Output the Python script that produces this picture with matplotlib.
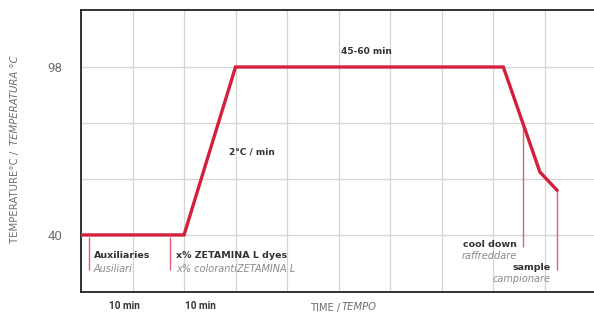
import matplotlib.pyplot as plt
from matplotlib.transforms import blended_transform_factory

plt.rcParams['font.family'] = ['DejaVu Sans']

# profile (time in minutes, temperature in °C)
time = [0, 20, 30, 82, 89.1, 92.4]
temp = [40, 40, 98, 98, 61.75, 55.5]

y_grid = [40, 59.33, 78.67, 98]
y_labels = ['40', '', '', '98']
x_grid = [10, 20, 30, 40, 50, 60, 70, 80, 90]

# step markers: x, top temp, bottom temp
marker_x = [1.55, 17.3, 85.8, 92.4]
marker_top = [39.2, 39.2, 78.6, 55.5]
marker_bottom = [27.9, 27.9, 35.9, 27.9]

# segment duration labels under the axis
dur_x = [8.5, 23.1]
dur_labels = ['10 min', '10 min']

red = '#d41f3d'
pink = '#e4607a'
dark = '#333333'
grey = '#8a8a8a'
axis_grey = '#6e6e6e'

fig = plt.figure(figsize=(5.94, 3.12), dpi=100)
ax = fig.add_axes([0.1364, 0.0641, 0.867, 0.904])

ax.plot(time, temp, color=red, lw=2.4, solid_joinstyle='miter', zorder=3)
ax.vlines(marker_x, marker_bottom, marker_top, color=pink, lw=1.0, zorder=2)

ax.set_xlim(0, 100)
ax.set_ylim(20.3, 117.7)
ax.set_xticks(x_grid)
ax.set_xticklabels([])
ax.set_yticks(y_grid)
ax.set_yticklabels(y_labels, color=axis_grey, fontsize=9.5, family='Roboto')
ax.tick_params(length=0, pad=13.5)
ax.grid(True, color='#d4d4d4', lw=0.9)
ax.set_axisbelow(True)
for s in ['left', 'bottom', 'top']:
    ax.spines[s].set_linewidth(1.3)
    ax.spines[s].set_color('#222222')
ax.spines['right'].set_visible(False)

# annotations
bfs = 6.8
ifs = 7.0
ax.text(2.5, 32.8, 'Auxiliaries', fontsize=bfs, weight='bold', color=dark, va='center')
ax.text(2.5, 28.4, 'Ausiliari', fontsize=ifs, style='italic', color=grey, va='center')
ax.text(18.5, 32.8, 'x% ZETAMINA L dyes', fontsize=bfs, weight='bold', color=dark, va='center')
ax.text(18.5, 28.4, 'x% colorantiZETAMINA L', fontsize=ifs, style='italic', color=grey, va='center')
ax.text(84.6, 36.7, 'cool down', fontsize=bfs, weight='bold', color=dark, va='center', ha='right')
ax.text(84.6, 32.9, 'raffreddare', fontsize=ifs, style='italic', color=grey, va='center', ha='right')
ax.text(91.2, 28.7, 'sample', fontsize=bfs, weight='bold', color=dark, va='center', ha='right')
ax.text(91.2, 24.9, 'campionare', fontsize=ifs, style='italic', color=grey, va='center', ha='right')
ax.text(50.4, 103.3, '45-60 min', fontsize=6.5, weight='bold', color=dark, va='center')
ax.text(28.7, 68.5, '2°C / min', fontsize=6.5, weight='bold', color=dark, va='center')

tr = blended_transform_factory(ax.transData, fig.transFigure)
for x, lab in zip(dur_x, dur_labels):
    ax.text(x, 0.02, lab, fontsize=7.2, weight='bold', color=dark, family='Roboto',
            ha='center', va='center', transform=tr)

# axis titles with mixed styles
fig.text(340 / 594, 1 - 310.5 / 312, 'TIME /', fontsize=7.2, color=axis_grey, ha='right', va='baseline')
fig.text(342 / 594, 1 - 310.5 / 312, 'TEMPO', fontsize=7.2, color=axis_grey, style='italic',
         ha='left', va='baseline')
fig.text(15 / 594, 1 - 243 / 312, 'TEMPERATURE°C /', fontsize=7.3, color=axis_grey,
         rotation=90, ha='center', va='bottom')
fig.text(15 / 594, 1 - 55 / 312, 'TEMPERATURA °C', fontsize=7.3, color=axis_grey,
         style='italic', rotation=90, ha='center', va='top')

fig.savefig('out.png', dpi=100)
